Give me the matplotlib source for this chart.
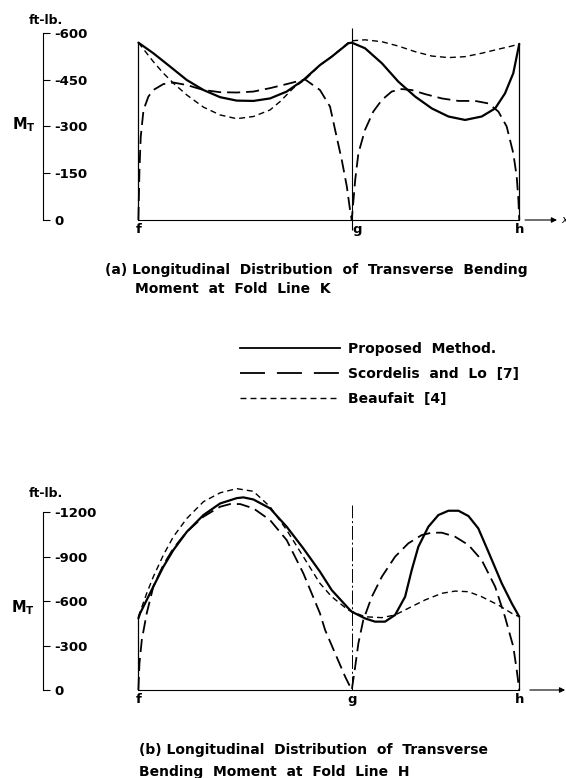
"""
Longitudinal distribution of transverse bending moment M_T along f-g-h
for fold lines K and H (proposed method vs. Scordelis & Lo vs. Beaufait).
"""

import matplotlib.pyplot as plt
from matplotlib.lines import Line2D

plt.rcParams['font.family'] = ['DejaVu Sans']
plt.rcParams['font.weight'] = 'bold'
plt.rcParams['mathtext.fontset'] = 'dejavusans'
plt.rcParams['axes.unicode_minus'] = False
plt.rcParams['lines.scale_dashes'] = False

# positions of the fold points along the span (f-g = 1)
POS_F, POS_G, POS_H = 0.0, 1.0, 1.785
POINT_NAMES = ['f', 'g', 'h']

SERIES_NAMES = ['Proposed  Method.', 'Scordelis  and  Lo  [7]', 'Beaufait  [4]']

# (a) fold line K, ft-lb
a_ticks = [0, -150, -300, -450, -600]

a_solid_x = [0, .070, .149, .227, .305, .383, .461, .539, .617, .695, .773, .851, .906,
             .984, 1.0, 1.062, 1.141, 1.218, 1.297, 1.375, 1.453, 1.531, 1.609, 1.672,
             1.718, 1.757, 1.785]
a_solid_m = [-569, -535, -492, -449, -417, -394, -383, -382, -390, -412, -449, -497, -524,
             -567, -569, -551, -503, -444, -396, -358, -332, -321, -332, -358,
             -406, -471, -565]

a_scord_x = [0, .005, .011, .024, .047, .070, .117, .164, .227, .305, .383, .461, .539,
             .617, .695, .781, .851, .898, .922, .953, .977, .992, 1.0, 1.016, 1.031,
             1.062, 1.101, 1.141, 1.187, 1.234, 1.281, 1.343, 1.422, 1.500, 1.578,
             1.640, 1.687, 1.726, 1.757, 1.773, 1.781, 1.785]
a_scord_m = [0, -160, -267, -353, -396, -417, -436, -441, -433, -417, -410, -409, -412,
             -423, -436, -451, -417, -364, -289, -193, -107, -32, 0, -128, -214,
             -289, -348, -385, -412, -420, -417, -404, -390, -382, -382,
             -374, -348, -300, -214, -139, -64, 0]

a_beau_x = [0, .039, .070, .117, .164, .227, .305, .383, .461, .539, .617, .664, .726,
            .789, .851, .906, .984, 1.0, 1.062, 1.141, 1.218, 1.297, 1.375, 1.453,
            1.531, 1.609, 1.687, 1.750, 1.785]
a_beau_m = [-569, -535, -508, -471, -439, -401, -362, -337, -325, -332, -353, -380, -423,
            -455, -497, -524, -569, -575, -578, -572, -558, -540, -526, -521,
            -524, -535, -548, -558, -565]

# (b) fold line H, ft-lb
b_ticks = [0, -300, -600, -900, -1200]

b_solid_x = [0, .008, .039, .070, .117, .164, .227, .305, .383, .461, .492, .539, .617,
             .695, .773, .851, .906, .984, 1.0, 1.062, 1.109, 1.156, 1.203, 1.250,
             1.281, 1.312, 1.359, 1.406, 1.453, 1.500, 1.547, 1.593, 1.640, 1.703,
             1.750, 1.785]
b_solid_m = [-483, -517, -607, -697, -831, -944, -1067, -1180, -1258, -1294, -1299, -1285,
             -1225, -1101, -955, -798, -674, -551, -528, -483, -461, -461, -506, -629,
             -809, -966, -1101, -1180, -1209, -1209, -1173, -1090, -933, -719,
             -584, -494]

b_scord_x = [0, .005, .016, .039, .070, .117, .164, .227, .305, .383, .430, .477, .539,
             .617, .695, .773, .851, .875, .922, .969, 1.0, 1.016, 1.031, 1.054, 1.094,
             1.141, 1.203, 1.265, 1.328, 1.375, 1.422, 1.484, 1.547, 1.609, 1.672,
             1.718, 1.757, 1.773, 1.785]
b_scord_m = [0, -180, -337, -517, -697, -843, -955, -1067, -1169, -1236, -1254, -1254,
             -1225, -1146, -1011, -787, -517, -405, -247, -90, 0, -157, -315, -472, -629,
             -764, -899, -989, -1045, -1061, -1061, -1034, -978, -876, -697,
             -494, -292, -135, 0]

b_beau_x = [0, .039, .070, .117, .164, .227, .305, .383, .461, .539, .617, .695, .773,
            .851, .906, .984, 1.062, 1.141, 1.203, 1.265, 1.343, 1.422, 1.484, 1.547,
            1.609, 1.687, 1.750, 1.785]
b_beau_m = [-494, -652, -764, -910, -1034, -1157, -1270, -1330, -1358, -1340, -1236,
            -1079, -899, -719, -629, -539, -494, -488, -506, -551, -607, -652, -667,
            -663, -629, -573, -517, -494]

W, H = 566, 778
FS = 9.5       # ticks, point labels
FS_CAP = 10    # captions, legend
LONG_DASH = (0, (9.4, 4.3))
SHORT_DASH = (0, (4.3, 2.9))


def fx(px):
    return px / W


def fy(py):
    return 1 - py / H


def setup_panel(ax, ticks, top):
    ax.set_xlim(-0.447, 2.004)
    ax.set_ylim(0, top)
    ax.patch.set_visible(False)
    for s in ['top', 'right']:
        ax.spines[s].set_visible(False)
    ax.spines['left'].set_bounds(min(ticks), 0)
    ax.spines['bottom'].set_bounds(POS_F, POS_H)
    ax.spines['left'].set_linewidth(0.8)
    ax.spines['bottom'].set_linewidth(0.8)
    ax.set_xticks([])
    ax.set_yticks(ticks, [str(t) for t in ticks], ha='left')
    ax.tick_params(axis='y', direction='in', length=5, width=0.8, pad=-8, labelsize=FS)


def draw_curves(ax, solid, scord, beau):
    ax.plot(*solid, color='k', lw=1.6, solid_capstyle='round')
    ax.plot(*scord, color='k', lw=1.3, ls=LONG_DASH)
    ax.plot(*beau, color='k', lw=1.0, ls=SHORT_DASH)
    # end walls at f and h
    ax.vlines([POS_F, POS_H], 0, [solid[1][0], solid[1][-1]], color='k', lw=0.9)


def point_labels(ax, g_shift):
    for name, pos in zip(POINT_NAMES, [POS_F, POS_G, POS_H]):
        dx = g_shift if name == 'g' else 0
        ax.annotate(name, xy=(pos, 0), xytext=(dx, -2), textcoords='offset points',
                    ha='center', va='top', fontsize=FS, annotation_clip=False)


def axis_arrow(ax, x0, x1):
    ax.annotate('', xy=(x1, 0), xytext=(x0, 0),
                arrowprops=dict(arrowstyle='-|>', color='k', lw=0.8, mutation_scale=8,
                                shrinkA=0, shrinkB=0),
                annotation_clip=False)


fig = plt.figure(figsize=(W / 100, H / 100), dpi=100)

# ---- panel (a)
ax_a = fig.add_axes([fx(43), fy(220), fx(566) - fx(43), 199.5 / H])
setup_panel(ax_a, a_ticks, -640)
draw_curves(ax_a, (a_solid_x, a_solid_m), (a_scord_x, a_scord_m), (a_beau_x, a_beau_m))
ax_a.vlines(POS_G, 32, -615, color='k', lw=0.8, clip_on=False)
point_labels(ax_a, 4)
axis_arrow(ax_a, 1.812, 1.962)
ax_a.text(1.98, 0, 'x', ha='left', va='center', fontsize=8, style='italic',
          fontweight='normal', clip_on=False)

fig.text(fx(46), fy(21), 'ft-lb.', ha='center', va='center', fontsize=9)
fig.text(fx(24), fy(125), r'$\mathbf{M}_{\mathbf{T}}$', ha='center', va='center',
         fontsize=10.5)

fig.text(fx(105), fy(270), '(a) Longitudinal  Distribution  of  Transverse  Bending',
         ha='left', va='center', fontsize=FS_CAP)
fig.text(fx(135), fy(289), 'Moment  at  Fold  Line  K', ha='left', va='center',
         fontsize=FS_CAP)

# ---- legend
handles = [Line2D([], [], color='k', lw=1.3),
           Line2D([], [], color='k', lw=1.3, ls=(0, (18, 8.6))),
           Line2D([], [], color='k', lw=1.0, ls=SHORT_DASH)]
fig.legend(handles, SERIES_NAMES, loc='upper left', bbox_to_anchor=(fx(240), fy(342)),
           frameon=False, handlelength=7.2, handletextpad=0.55, labelspacing=0.78,
           borderpad=0, borderaxespad=0, fontsize=FS_CAP)

# ---- panel (b)
ax_b = fig.add_axes([fx(43), fy(690), fx(566) - fx(43), 215 / H])
setup_panel(ax_b, b_ticks, -1450)
draw_curves(ax_b, (b_solid_x, b_solid_m), (b_scord_x, b_scord_m), (b_beau_x, b_beau_m))
ax_b.vlines(POS_G, 0, -1247, color='k', lw=0.7, linestyles=[(0, (10, 2, 1.5, 2))])
point_labels(ax_b, 0)
axis_arrow(ax_b, 1.835, 2.0)

fig.text(fx(46), fy(494), 'ft-lb.', ha='center', va='center', fontsize=9)
fig.text(fx(23), fy(608), r'$\mathbf{M}_{\mathbf{T}}$', ha='center', va='center',
         fontsize=10.5)

fig.text(fx(139), fy(750), '(b) Longitudinal  Distribution  of  Transverse',
         ha='left', va='center', fontsize=FS_CAP)
fig.text(fx(139), fy(772), 'Bending  Moment  at  Fold  Line  H', ha='left', va='center',
         fontsize=FS_CAP)

fig.savefig('out.png', dpi=100)
